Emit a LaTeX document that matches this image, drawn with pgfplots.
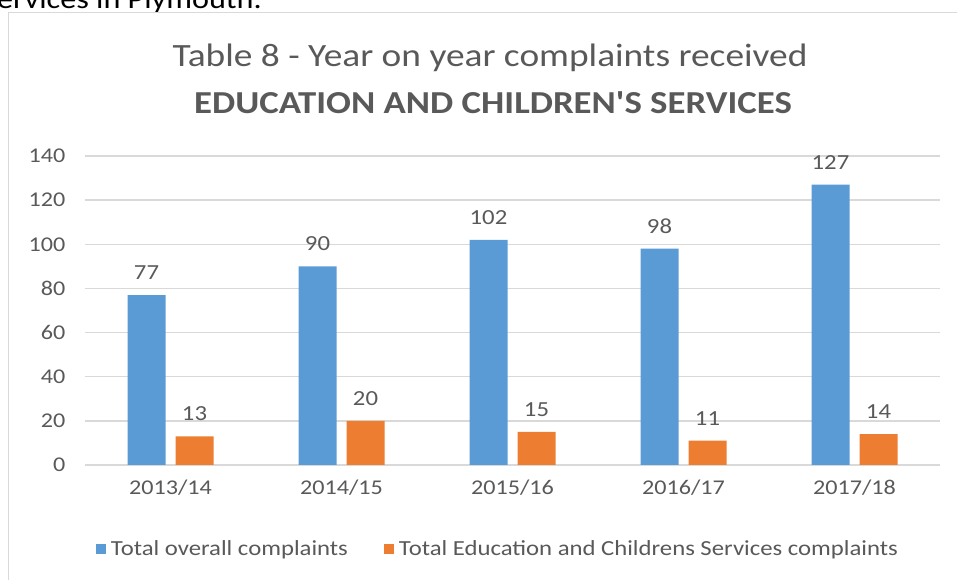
\documentclass[border=0pt]{standalone}
\usepackage{fontspec}
\setmainfont{Carlito}[FakeStretch=1.15]
\newfontfamily\plaintitle{Carlito}[FakeStretch=1.15, Ligatures=TeXOff]
\usepackage{pgfplots}
\pgfplotsset{compat=1.18}
\definecolor{cblue}{HTML}{5B9BD5}
\definecolor{corange}{HTML}{ED7D31}
\definecolor{ctext}{HTML}{595959}
\definecolor{cgrid}{HTML}{D9D9D9}

% complaints received per year
\pgfplotstableread{
x total edu
0 77  13
1 90  20
2 102 15
3 98  11
4 127 14
}\complaints

\begin{document}
\begin{tikzpicture}[x=1pt,y=1pt]
\useasboundingbox (0,0) rectangle (957,580);
\begin{scope}
  \clip (0,0) rectangle (957,580);
  \node[anchor=base east, inner sep=0, font=\fontsize{28}{32}\selectfont] at (262,571) {Services in Plymouth.};
  \draw[cgrid, line width=1.5pt] (8.5,-5) -- (8.5,567.5) -- (965,567.5);
\end{scope}
\node[ctext, anchor=base, inner sep=0, font=\fontsize{32.5}{38}\selectfont] at (490,513) {Table 8 - Year on year complaints received};
\node[ctext, anchor=base, inner sep=0, font=\fontsize{32}{38}\selectfont\plaintitle\bfseries] at (493,466) {EDUCATION AND CHILDREN'S SERVICES};
\begin{axis}[
    at={(85pt,115pt)}, anchor=south west,
    scale only axis,
    width=855pt, height=309pt,
    xmin=-0.5, xmax=4.5,
    ymin=0, ymax=140,
    ytick distance=20,
    xtick={0,...,4},
    xticklabels={2013/14,2014/15,2015/16,2016/17,2017/18},
    axis line style={draw=none},
    major tick length=0pt,
    ymajorgrids,
    grid style={cgrid, line width=1.5pt},
    tick label style={font=\fontsize{21}{25}\selectfont, text=ctext},
    /pgf/number format/assume math mode=true,
    yticklabel style={xshift=-16pt},
    xticklabel style={yshift=-11pt},
    ybar, bar width=38pt,
    nodes near coords,
    nodes near coords style={font=\fontsize{21.5}{25}\selectfont, text=ctext, yshift=12pt},
    legend style={draw=none, at={(0.483,-0.272)}, anchor=center,
        font=\fontsize{21.5}{25}\selectfont, text=ctext, legend columns=2,
        /tikz/every even column/.append style={column sep=34pt}},
    legend image code/.code={\fill[#1] (0pt,-5pt) rectangle (10pt,5pt); \path (13pt,0pt);},
]
\addplot[fill=cblue, draw=none, bar shift=-24pt] table[x=x, y=total] {\complaints};
\addplot[fill=corange, draw=none, bar shift=24pt] table[x=x, y=edu] {\complaints};
\legend{Total overall complaints, Total Education and Childrens Services complaints}
\end{axis}
\end{tikzpicture}
\end{document}
